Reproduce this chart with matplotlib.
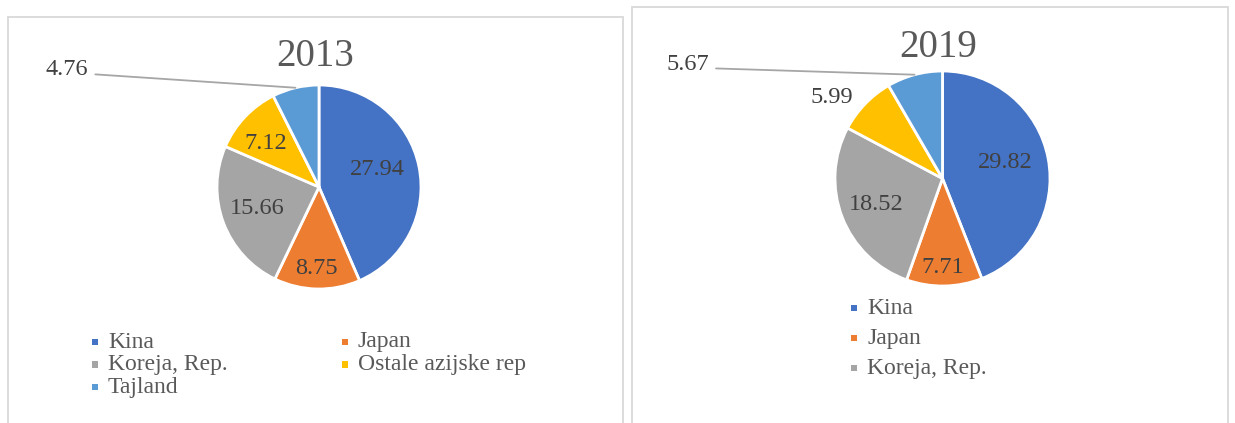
import numpy as np
import matplotlib.pyplot as plt
from matplotlib.patches import Rectangle

plt.rcParams['font.family'] = ['Liberation Serif', 'DejaVu Serif']

categories = ['Kina', 'Japan', 'Koreja, Rep.', 'Ostale azijske rep', 'Tajland']
values_2013 = [27.94, 8.75, 15.66, 7.12, 4.76]
values_2019 = [29.82, 7.71, 18.52, 5.99, 5.67]
colors = ['#4472C4', '#ED7D31', '#A5A5A5', '#FFC000', '#5B9BD5']

W, H = 1235, 423
fig = plt.figure(figsize=(W / 100, H / 100), dpi=100)


def frame(x0, y0, x1, y1):
    # panel border, pixel coords measured from top-left
    fig.add_artist(Rectangle((x0 / W, 1 - y1 / H), (x1 - x0) / W, (y1 - y0) / H,
                             transform=fig.transFigure, fill=False,
                             ec='#D9D9D9', lw=1.3))


def draw_pie(cx, cy, r, values, inside, outside, leader, title, title_xy):
    ax = fig.add_axes([(cx - r) / W, (H - cy - r) / H, 2 * r / W, 2 * r / H])
    wedges, _ = ax.pie(values, colors=colors, startangle=90, counterclock=False,
                       wedgeprops=dict(edgecolor='white', linewidth=2))
    ax.set_xlim(-1, 1)
    ax.set_ylim(-1, 1)
    for i, (w, v) in enumerate(zip(wedges, values)):
        mid = np.deg2rad((w.theta1 + w.theta2) / 2)
        if i in inside:
            d, da = inside[i]
            a = mid + np.deg2rad(da)
            ax.text(d * np.cos(a), d * np.sin(a), f'{v:.2f}', ha='center', va='center',
                    fontsize=17.5, color='#404040')
        elif i in leader:
            ax.annotate(f'{v:.2f}', xy=(np.cos(mid), np.sin(mid)), xytext=leader[i],
                        ha='center', va='center', fontsize=17.5, color='#404040',
                        annotation_clip=False,
                        arrowprops=dict(arrowstyle='-', color='#A6A6A6', lw=1.3,
                                        shrinkA=3, shrinkB=0, relpos=(1.0, 0.3)))
        else:
            ax.text(*outside[i], f'{v:.2f}', ha='center', va='center',
                    fontsize=17.5, color='#404040')
    fig.text(title_xy[0] / W, 1 - title_xy[1] / H, title, ha='center', va='center',
             fontsize=28, color='#595959')


def legend(names, x0, y0, colw, rowh, ncol):
    for i, name in enumerate(names):
        row, col = divmod(i, ncol)
        x = x0 + col * colw
        y = y0 + row * rowh
        s = 6.5
        fig.add_artist(Rectangle(((x - s / 2) / W, 1 - (y + s / 2) / H), s / W, s / H,
                                 transform=fig.transFigure, color=colors[i], lw=0))
        fig.text((x + 13) / W, 1 - y / H, name, ha='left', va='center',
                 fontsize=17, color='#595959')


frame(8, 17, 623, 440)
frame(632, 7, 1228, 440)

draw_pie(319, 187, 102, values_2013,
         inside={0: (0.6, 5), 1: (0.8, -1), 2: (0.64, -1.5), 3: (0.68, 4)},
         outside={}, leader={4: (-2.47, 1.15)},
         title='2013', title_xy=(315, 56.5))
legend(categories, 95, 342, 250, 22.5, 2)

draw_pie(942.5, 178.5, 107.5, values_2019,
         inside={0: (0.6, 3.3), 1: (0.83, -1), 2: (0.66, 0)},
         outside={3: (-1.03, 0.75)}, leader={4: (-2.37, 1.065)},
         title='2019', title_xy=(938, 47.5))
legend(categories[:3], 854, 308, 0, 30, 1)

fig.savefig('out.png', dpi=100, facecolor='white')
